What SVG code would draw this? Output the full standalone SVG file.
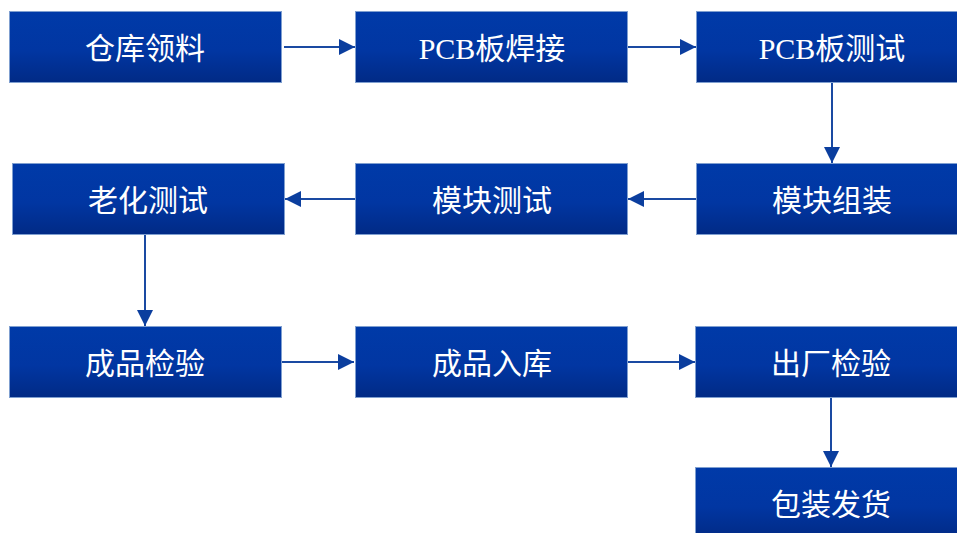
<svg xmlns="http://www.w3.org/2000/svg" width="957" height="533" viewBox="0 0 957 533">
<defs>
<linearGradient id="g" x1="0" y1="0" x2="0" y2="1">
<stop offset="0" stop-color="#003aa8"/>
<stop offset="0.55" stop-color="#0136a2"/>
<stop offset="1" stop-color="#012a85"/>
</linearGradient>
<marker id="ah" viewBox="0 0 16 16" refX="16" refY="8" markerWidth="16" markerHeight="16" markerUnits="userSpaceOnUse" orient="auto">
<path d="M0,0 L16,8 L0,16 Z" fill="#0b3e9e"/>
</marker>
<style>
.box{fill:url(#g);stroke:#7f9fd0;stroke-width:1}
.t{fill:#ffffff;font-family:"Liberation Serif","Noto Sans CJK SC",serif;font-size:30px;text-anchor:middle}
.c{fill:none;stroke:#1a4aa2;stroke-width:2;marker-end:url(#ah)}
</style>
</defs>
<rect width="957" height="533" fill="#ffffff"/>
<g id="connectors">
<line class="c" x1="284" y1="47" x2="355" y2="47"/>
<line class="c" x1="628" y1="47" x2="696" y2="47"/>
<line class="c" x1="832" y1="83" x2="832" y2="163"/>
<line class="c" x1="696" y1="199" x2="628" y2="199"/>
<line class="c" x1="355" y1="199" x2="285" y2="199"/>
<line class="c" x1="145" y1="235" x2="145" y2="326"/>
<line class="c" x1="281" y1="362" x2="354" y2="362"/>
<line class="c" x1="628" y1="362" x2="695" y2="362"/>
<line class="c" x1="831" y1="398" x2="831" y2="467"/>
</g>
<g id="n1"><rect class="box" x="9.5" y="11.5" width="272" height="71"/><text class="t" x="145" y="59">仓库领料</text></g>
<g id="n2"><rect class="box" x="355.5" y="11.5" width="272" height="71"/><text class="t" x="492" y="59">PCB板焊接</text></g>
<g id="n3"><rect class="box" x="696.5" y="11.5" width="272" height="71"/><text class="t" x="832" y="59">PCB板测试</text></g>
<g id="n4"><rect class="box" x="696.5" y="163.5" width="272" height="71"/><text class="t" x="832" y="211">模块组装</text></g>
<g id="n5"><rect class="box" x="355.5" y="163.5" width="272" height="71"/><text class="t" x="492" y="211">模块测试</text></g>
<g id="n6"><rect class="box" x="12.5" y="163.5" width="272" height="71"/><text class="t" x="148" y="211">老化测试</text></g>
<g id="n7"><rect class="box" x="9.5" y="326.5" width="272" height="71"/><text class="t" x="145" y="374">成品检验</text></g>
<g id="n8"><rect class="box" x="355.5" y="326.5" width="272" height="71"/><text class="t" x="492" y="374">成品入库</text></g>
<g id="n9"><rect class="box" x="695.5" y="326.5" width="272" height="71"/><text class="t" x="831" y="374">出厂检验</text></g>
<g id="n10"><rect class="box" x="695.5" y="467.5" width="272" height="71"/><text class="t" x="831" y="515">包装发货</text></g>
</svg>
